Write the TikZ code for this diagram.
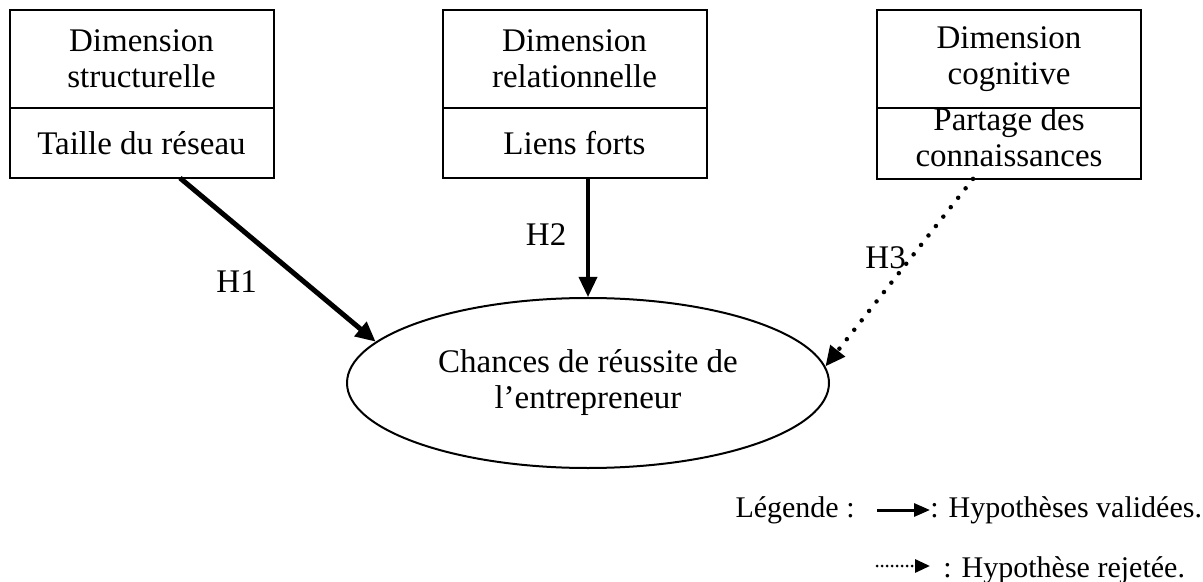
\documentclass[tikz,border=0pt]{standalone}
\usepackage{fontspec}
\setmainfont{Liberation Serif}
\usetikzlibrary{positioning,arrows.meta,shapes.geometric}

\begin{document}
\begin{tikzpicture}[
  x=0.5pt, y=-0.5pt,
  font=\fontsize{16.5}{18}\selectfont,
  >={Triangle[length=10pt, width=9pt]},
  dimhead/.style={rectangle, draw, line width=1pt, minimum width=132pt,
                  minimum height=49pt, outer sep=0pt, inner sep=0pt, align=center},
  dimitem/.style={dimhead, minimum height=35pt},
  goal/.style={ellipse, draw, line width=1pt, minimum width=241pt,
               minimum height=85pt, inner sep=0pt, align=center},
  hyp/.style={->, line width=#1},
  rejected/.style={->, line width=2.25pt, dash pattern=on 0pt off 6pt, line cap=round},
  hlab/.style={inner sep=0pt},
  legtext/.style={font=\fontsize{15}{16}\selectfont, inner sep=0pt},
]
\useasboundingbox (0,0) rectangle (1203,582);

% ---- Dimensions du capital social ----
\node[dimhead] (structH) at (141.5,59) {Dimension\\structurelle};
\node[dimitem, below=0pt of structH] (structB) {Taille du réseau};
\node[dimhead] (relH) at (574.5,59) {Dimension\\relationnelle};
\node[dimitem, below=0pt of relH] (relB) {Liens forts};
\node[dimhead] (cogH) at (1009,59) {Dimension\\cognitive};
\node[dimitem, below=0pt of cogH, text depth=6pt] (cogB) {Partage des\\connaissances};

% ---- Variable dependante ----
\node[goal] (chances) at (588,383) {Chances de réussite de\\l’entrepreneur};

% ---- Hypotheses ----
\draw[hyp=2.5pt] ([xshift=19.25pt]structB.south) -- (chances.169)
  node[hlab, pos=0.63, left=22pt] (h1) {H1};
\draw[hyp=1.75pt] (chances.north |- relB.south) -- (chances.north)
  node[hlab, pos=0.475, left=10pt] (h2) {H2};
\draw[rejected] ([xshift=-18pt]cogB.south) -- (chances.4)
  node[hlab, pos=0.42, left=1.5pt] (h3) {H3};

% ---- Legende ----
\coordinate (va) at (877,510);
\coordinate (vb) at (930,510);
\node[legtext, anchor=west] (valid) at (vb) {: Hypothèses validées.};
\node[legtext, left=11pt of va] (leg) {Légende :};
\draw[->, line width=1.5pt, >={Triangle[length=8pt, width=6.5pt]}] (va) -- (valid.west);
\coordinate (ra) at (877,566);
\coordinate (rb) at (930,566);
\node[legtext, anchor=base west] (rejet) at (943,577) {: Hypothèse rejetée.};
\draw[->, line width=1.5pt, dash pattern=on 0pt off 2.5pt, line cap=round,
      >={Triangle[length=7.5pt, width=6.5pt]}] (ra) -- (rb);

\end{tikzpicture}
\end{document}
